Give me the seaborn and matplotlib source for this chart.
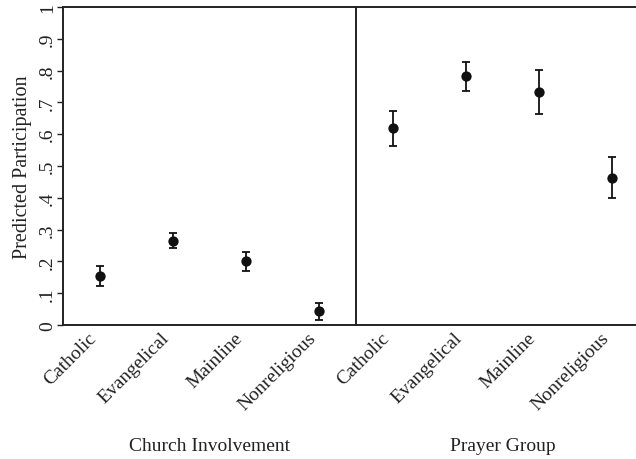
import matplotlib
matplotlib.use("Agg")
import matplotlib.pyplot as plt
import seaborn as sns
import numpy as np
import pandas as pd

categories = ["Catholic", "Evangelical", "Mainline", "Nonreligious"]
church_est = [0.155, 0.265, 0.202, 0.043]
church_lo = [0.122, 0.242, 0.169, 0.016]
church_hi = [0.186, 0.288, 0.231, 0.068]
prayer_est = [0.619, 0.782, 0.734, 0.463]
prayer_lo = [0.563, 0.736, 0.665, 0.400]
prayer_hi = [0.672, 0.828, 0.802, 0.527]
group_titles = ["Church Involvement", "Prayer Group"]
ytick_vals = [0, .1, .2, .3, .4, .5, .6, .7, .8, .9, 1]
ytick_labels = ["0", ".1", ".2", ".3", ".4", ".5", ".6", ".7", ".8", ".9", "1"]

sns.set_theme(style="white")
plt.rcParams["font.family"] = ["Liberation Serif", "DejaVu Serif"]

W, H = 636, 460
fig = plt.figure(figsize=(W / 100, H / 100), dpi=100)
left, bottom, pw, ph = 63, 326, 293, 318
ax1 = fig.add_axes([left / W, (H - bottom) / H, pw / W, ph / H])
ax2 = fig.add_axes([(left + pw) / W, (H - bottom) / H, pw / W, ph / H], sharey=ax1)

ink = "#111111"
txt = "#222222"
panels = [
    (ax1, church_est, church_lo, church_hi, group_titles[0]),
    (ax2, prayer_est, prayer_lo, prayer_hi, group_titles[1]),
]
for i, (ax, est, lo, hi, title) in enumerate(panels):
    df = pd.DataFrame({"cat": categories, "est": est})
    xs = np.arange(len(categories))
    est_a = np.array(est)
    yerr = np.vstack([est_a - np.array(lo), np.array(hi) - est_a])
    ax.errorbar(xs, est_a, yerr=yerr, fmt="none", ecolor=ink, elinewidth=1.3,
                capsize=3.2, capthick=1.3, zorder=2)
    sns.scatterplot(data=df, x="cat", y="est", ax=ax, color=ink, s=55,
                    edgecolor=ink, linewidth=0, zorder=3)
    ax.set_xlim(-0.5, 3.5)
    ax.set_ylim(0, 1)
    ax.set_xticks(xs)
    ax.set_xticklabels(categories, rotation=45, ha="right", fontsize=14,
                       color=txt)
    ax.tick_params(axis="x", length=0, pad=3)
    ax.set_xlabel("")
    ax.set_ylabel("")
    for sp in ax.spines.values():
        sp.set_color(txt)
        sp.set_linewidth(1.4)
    # group title centred under the panel
    cx = (left + pw * i + pw / 2) / W
    fig.text(cx, 1 - 447 / H, title, ha="center", va="center", fontsize=14,
             color=txt)

ax1.spines["right"].set_visible(False)
ax1.set_yticks(ytick_vals)
ax1.set_yticklabels(ytick_labels, rotation=90, va="center", fontsize=14,
                    color=txt)
ax1.tick_params(axis="y", length=4, width=1.0, color=txt, pad=1, left=True)
ax1.set_ylabel("Predicted Participation", fontsize=14.5, color=txt, labelpad=5)
ax2.tick_params(axis="y", left=False, labelleft=False)

fig.savefig("out.png", dpi=100, facecolor="white")
